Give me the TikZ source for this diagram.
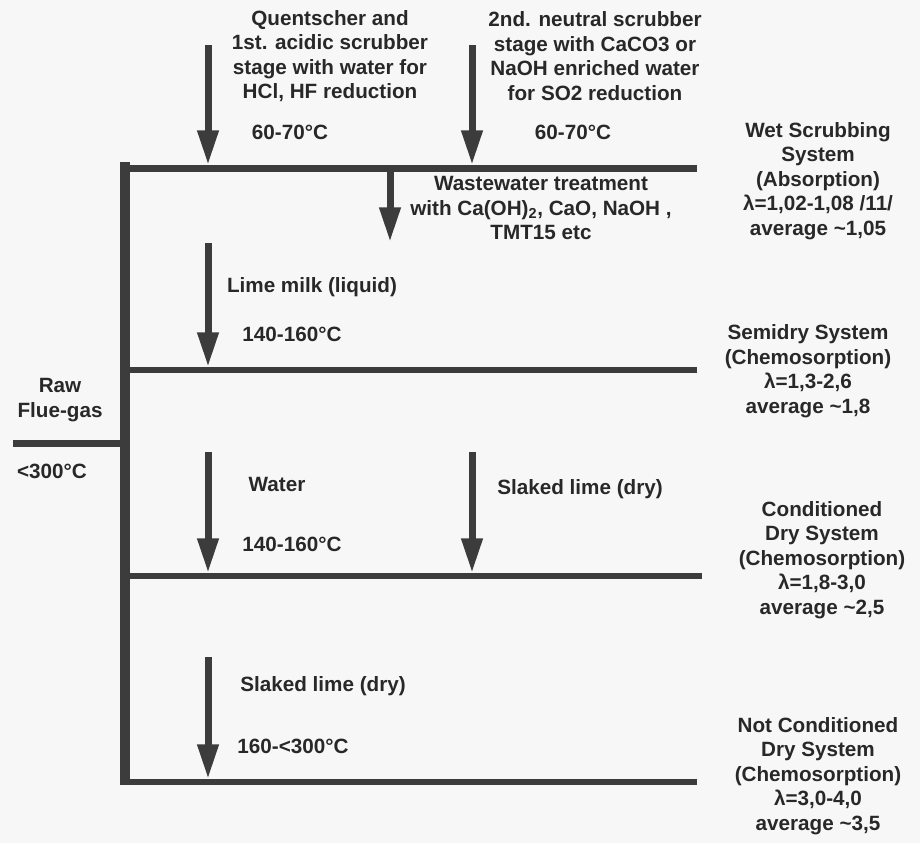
\documentclass[tikz,border=0pt]{standalone}
\usepackage{fontspec}
\setmainfont{Liberation Sans}
\usetikzlibrary{arrows.meta}
\definecolor{ink}{RGB}{40,40,40}
\definecolor{pipe}{RGB}{60,60,60}
\definecolor{paper}{RGB}{247,247,247}
\begin{document}
\begin{tikzpicture}[x=0.75pt,y=-0.75pt,
  lbl/.style={text=ink,font=\fontsize{15.5}{18.4}\selectfont\bfseries,align=center,inner sep=0pt},
  pipeV/.style={draw=pipe,line width=7.5pt},
  pipeH/.style={draw=pipe,line width=4.9pt},
  feed/.style={draw=pipe,line width=5.25pt,-{Triangle[length=26pt,width=15pt]},color=pipe}]
\fill[paper] (0,0) rectangle (920,843);
\useasboundingbox (0,0) rectangle (920,843);
% coordinates of the duct system
\coordinate (vtop) at (124.5,162);
\coordinate (vbot) at (124.5,785);
\coordinate (h1a) at (124.5,168.5); \coordinate (h1b) at (697,168.5);
\coordinate (h2a) at (124.5,370);   \coordinate (h2b) at (697,370);
\coordinate (h3a) at (124.5,576);   \coordinate (h3b) at (702,576);
\coordinate (h4a) at (124.5,782);   \coordinate (h4b) at (697,782);
\coordinate (rawa) at (13,443.5);   \coordinate (rawb) at (124.5,443.5);
\draw[pipeV] (vtop) -- (vbot);
\draw[pipeH] (h1a) -- (h1b);
\draw[pipeH] (h2a) -- (h2b);
\draw[pipeH] (h3a) -- (h3b);
\draw[pipeH] (h4a) -- (h4b);
\draw[pipeH] (rawa) -- (rawb);
% feed arrows
\coordinate (a1s) at (208,45);  \coordinate (a1e) at (208,165);
\coordinate (a2s) at (472,45);  \coordinate (a2e) at (472,165);
\coordinate (wws) at (390,172); \coordinate (wwe) at (390,242);
\coordinate (lms) at (208,243); \coordinate (lme) at (208,367);
\coordinate (wts) at (208,452); \coordinate (wte) at (208,573);
\coordinate (sls) at (472,452); \coordinate (sle) at (472,573);
\coordinate (sbs) at (208,657); \coordinate (sbe) at (208,779);
\draw[feed] (a1s) -- (a1e);
\draw[feed] (a2s) -- (a2e);
\draw[feed] (wws) -- (wwe);
\draw[feed] (lms) -- (lme);
\draw[feed] (wts) -- (wte);
\draw[feed] (sls) -- (sle);
\draw[feed] (sbs) -- (sbe);
% labels
\node[lbl] (quent) at (330,56) {Quentscher and\\1st. acidic scrubber\\stage with water for\\HCl, HF reduction};
\node[lbl] (neut) at (595,56) {2nd. neutral scrubber\\stage with CaCO3 or\\NaOH enriched water\\for SO2 reduction};
\node[lbl] (t1) at (290,132) {60-70°C};
\node[lbl] (t2) at (573,132) {60-70°C};
\node[lbl] (wet) at (818,181) {Wet Scrubbing\\System\\(Absorption)\\λ=1,02-1,08 /11/\\average \textasciitilde1,05};
\node[lbl] (ww) at (541,208) {Wastewater treatment\\with Ca(OH)\textsubscript{2}, CaO, NaOH ,\\TMT15 etc};
\node[lbl] (lime) at (312,287) {Lime milk (liquid)};
\node[lbl] (t3) at (292,334) {140-160°C};
\node[lbl] (semi) at (808,371) {Semidry System\\(Chemosorption)\\λ=1,3-2,6\\average \textasciitilde1,8};
\node[lbl] (raw) at (60,400) {Raw\\Flue-gas};
\node[lbl] (t0) at (52,471) {<300°C};
\node[lbl] (water) at (277,484) {Water};
\node[lbl] (t4) at (292,544) {140-160°C};
\node[lbl] (slr) at (580,489) {Slaked lime (dry)};
\node[lbl] (cond) at (822,560) {Conditioned\\Dry System\\(Chemosorption)\\λ=1,8-3,0\\average \textasciitilde2,5};
\node[lbl] (slb) at (323,686) {Slaked lime (dry)};
\node[lbl] (t5) at (293,746) {160-<300°C};
\node[lbl] (ncond) at (818,776) {Not Conditioned\\Dry System\\(Chemosorption)\\λ=3,0-4,0\\average \textasciitilde3,5};
\end{tikzpicture}
\end{document}
